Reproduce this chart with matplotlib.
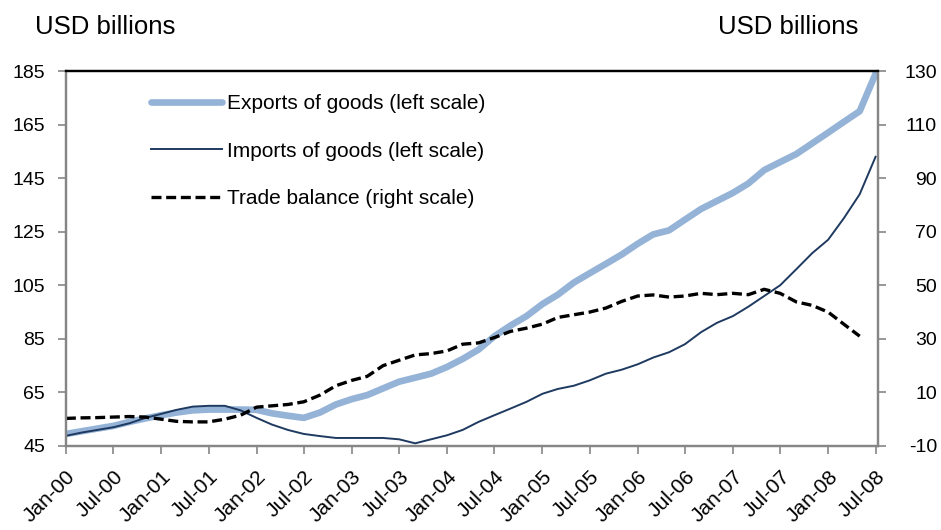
import numpy as np
import pandas as pd
import matplotlib
matplotlib.use('Agg')
import matplotlib.pyplot as plt
import matplotlib.dates as mdates

plt.rcParams['font.family'] = ['Liberation Sans', 'DejaVu Sans']
plt.rcParams['axes.unicode_minus'] = False

# bi-monthly readings, Jan-00 .. Jul-08
dates = pd.date_range('2000-01-01', '2008-07-01', freq='2MS')

exports = [49.5, 50.5, 51.5, 52.5, 54, 55.3, 56.5, 57.5, 58.3, 58.6,
           58.6, 58.6, 58.5, 57.2, 56.3, 55.5, 57.5, 60.5, 62.5, 64,
           66.5, 69, 70.5, 72, 74.5, 77.5, 81, 86, 90, 93.5,
           98, 101.5, 106, 109.5, 113, 116.5, 120.5, 124, 125.5, 129.5,
           133.5, 136.5, 139.5, 143, 148, 151, 154, 158, 162, 166,
           170, 184]

imports = [48.8, 50, 51, 52, 53.5, 55.5, 57, 58.5, 59.7, 60,
           60, 58.3, 55.5, 53, 51, 49.5, 48.7, 48, 48, 48,
           48, 47.5, 46, 47.5, 49, 51, 54, 56.5, 59, 61.5,
           64.5, 66.3, 67.5, 69.5, 72, 73.5, 75.5, 78, 80, 83,
           87.5, 91, 93.5, 97, 101, 105, 111, 117, 122, 130,
           139, 153]

# right scale; last month not yet published
balance = [0.3, 0.5, 0.6, 0.8, 1.0, 0.8, 0, -0.8, -1, -1,
           0, 1.5, 4.5, 5, 5.5, 6.5, 9, 12.5, 14.5, 16,
           20, 22, 24, 24.5, 25.5, 28, 28.5, 30.5, 32.8, 34,
           35.5, 38, 39, 40, 41.5, 44, 46, 46.4, 45.6, 46,
           47, 46.5, 47, 46.5, 48.5, 47, 43.8, 42.5, 40, 35.5,
           31, np.nan]

left_ticks = list(range(45, 186, 20))
right_ticks = list(range(-10, 131, 20))

fig = plt.figure(figsize=(9.41, 5.30), dpi=100)
ax = fig.add_axes([0.070, 0.1585, 0.863, 0.7075])
ax2 = ax.twinx()

l1, = ax.plot(dates, exports, color='#95B3D7', lw=4.8, solid_capstyle='round',
              label='Exports of goods (left scale)')
l2, = ax.plot(dates, imports, color='#1F3A60', lw=1.4,
              label='Imports of goods (left scale)')
l3, = ax2.plot(dates, balance, color='black', lw=2.4, ls=(0, (3, 1.4)),
               label='Trade balance (right scale)')

ax.set_ylim(45, 185)
ax.set_yticks(left_ticks)
ax2.set_ylim(-10, 130)
ax2.set_yticks(right_ticks)
ax.set_xlim(pd.Timestamp('2000-01-01'), pd.Timestamp('2008-07-10'))

ax.xaxis.set_major_locator(mdates.MonthLocator(bymonth=[1, 7]))
ax.xaxis.set_major_formatter(mdates.DateFormatter('%b-%y'))

grey = '#868686'
for a in (ax, ax2):
    for s in ('left', 'right', 'bottom'):
        a.spines[s].set_color(grey)
        a.spines[s].set_linewidth(1.6)
    a.spines['top'].set_color('black')
    a.spines['top'].set_linewidth(1.6)
    a.tick_params(axis='both', colors=grey, labelcolor='black', labelsize=14,
                  length=6, width=1.2, direction='out')
ax.tick_params(axis='x', pad=9, labelsize=15)
ax.tick_params(axis='y', pad=9)
ax2.tick_params(axis='y', pad=36.5)

fig.canvas.draw()
for lab in ax.get_xticklabels():
    lab.set_rotation(45)
    lab.set_ha('right')
    lab.set_va('top')
    lab.set_rotation_mode('anchor')
for lab in ax2.get_yticklabels():
    lab.set_ha('right')

fig.text(0.037, 0.949, 'USD billions', fontsize=18.5, va='center', ha='left')
fig.text(0.912, 0.949, 'USD billions', fontsize=18.5, va='center', ha='right')

fig.legend(handles=[l1, l2, l3], loc='upper left',
           bbox_to_anchor=(151 / 941, 1 - 94 / 530), frameon=False,
           fontsize=15, handlelength=3.4, handletextpad=0.25,
           labelspacing=1.38, borderpad=0, borderaxespad=0)

fig.savefig('out.png', dpi=100)
